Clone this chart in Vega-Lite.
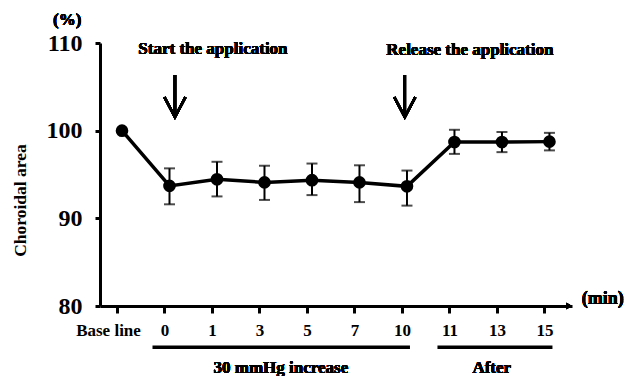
{
  "$schema": "https://vega.github.io/schema/vega-lite/v6.json",
  "width": 472,
  "height": 263,
  "autosize": {"type": "none"},
  "padding": {"left": 100, "top": 43, "right": 54, "bottom": 70},
  "background": "white",
  "config": {
    "view": {"stroke": null},
    "font": "Liberation Serif",
    "axis": {
      "domainColor": "black", "tickColor": "black", "labelColor": "black", "titleColor": "black", "grid": false,
      "labelFont": "Liberation Serif", "titleFont": "Liberation Serif"
    }
  },
  "data": {
    "values": [
      {"step": 0, "time": "Base line", "mean": 100.0, "lo": null, "hi": null},
      {"step": 1, "time": "0", "mean": 93.7, "lo": 91.6, "hi": 95.7},
      {"step": 2, "time": "1", "mean": 94.45, "lo": 92.5, "hi": 96.45},
      {"step": 3, "time": "3", "mean": 94.1, "lo": 92.1, "hi": 96.0},
      {"step": 4, "time": "5", "mean": 94.35, "lo": 92.65, "hi": 96.25},
      {"step": 5, "time": "7", "mean": 94.1, "lo": 91.85, "hi": 96.05},
      {"step": 6, "time": "10", "mean": 93.65, "lo": 91.45, "hi": 95.45},
      {"step": 7, "time": "11", "mean": 98.7, "lo": 97.35, "hi": 100.1},
      {"step": 8, "time": "13", "mean": 98.7, "lo": 97.55, "hi": 99.85},
      {"step": 9, "time": "15", "mean": 98.75, "lo": 97.75, "hi": 99.75}
    ]
  },
  "layer": [
    {
      "mark": {"type": "rule", "strokeWidth": 2, "color": "black", "xOffset": 5},
      "encoding": {
        "x": {
          "field": "step", "type": "quantitative",
          "scale": {"domain": [-0.358, 9.58], "nice": false, "zero": false},
          "axis": {
            "title": null,
            "values": [0, 1, 2, 3, 4, 5, 6, 7, 8, 9],
            "labelExpr": "['Base line','0','1','3','5','7','10','11','13','15'][datum.value]",
            "labelFontSize": 17,
            "labelFontWeight": "bold",
            "labelPadding": 9,
            "labelOffset": {"condition": {"test": "datum.value === 0", "value": -9}, "value": 0},
            "tickSize": 7,
            "tickWidth": 3,
            "domainWidth": 3
          }
        },
        "y": {
          "field": "lo", "type": "quantitative",
          "scale": {"domain": [80, 110], "nice": false, "zero": false},
          "axis": {
            "title": "Choroidal area",
            "values": [80, 90, 100, 110],
            "labelFontSize": 24,
            "labelFontWeight": "bold",
            "labelPadding": 13,
            "tickSize": 5,
            "tickWidth": 3,
            "domainWidth": 3,
            "titleFont": "Liberation Serif",
            "titleFontSize": 17.5,
            "titleFontWeight": "bold",
            "titleAngle": -90,
            "titleX": -80,
            "titleY": 157,
            "titleAlign": "center",
            "titleBaseline": "middle"
          }
        },
        "y2": {"field": "hi"}
      }
    },
    {
      "mark": {"type": "tick", "orient": "horizontal", "size": 11, "thickness": 2, "color": "black", "xOffset": 5},
      "encoding": {
        "x": {"field": "step", "type": "quantitative"},
        "y": {"field": "lo", "type": "quantitative", "title": "Choroidal area"}
      }
    },
    {
      "mark": {"type": "tick", "orient": "horizontal", "size": 11, "thickness": 2, "color": "black", "xOffset": 5},
      "encoding": {
        "x": {"field": "step", "type": "quantitative"},
        "y": {"field": "hi", "type": "quantitative", "title": "Choroidal area"}
      }
    },
    {
      "mark": {"type": "line", "strokeWidth": 3.5, "color": "black", "xOffset": 5},
      "encoding": {
        "x": {"field": "step", "type": "quantitative"},
        "y": {"field": "mean", "type": "quantitative", "title": "Choroidal area"}
      }
    },
    {
      "mark": {"type": "point", "shape": "circle", "filled": true, "size": 160, "color": "black", "opacity": 1, "xOffset": 5},
      "encoding": {
        "x": {"field": "step", "type": "quantitative"},
        "y": {"field": "mean", "type": "quantitative", "title": "Choroidal area"}
      }
    },
    {
      "mark": {"type": "rule", "strokeWidth": 2.5, "color": "black"},
      "encoding": {"x": {"datum": 1.22}, "y": {"datum": 106.35}, "y2": {"datum": 101.7}}
    },
    {
      "mark": {"type": "point", "shape": "M-1,-1.9L0,0L1,-1.9", "filled": false, "size": 441, "stroke": "black", "strokeWidth": 2.5, "opacity": 1},
      "encoding": {"x": {"datum": 1.22}, "y": {"datum": 101.55}}
    },
    {
      "mark": {"type": "rule", "strokeWidth": 2.5, "color": "black"},
      "encoding": {"x": {"datum": 6.06}, "y": {"datum": 106.35}, "y2": {"datum": 101.7}}
    },
    {
      "mark": {"type": "point", "shape": "M-1,-1.9L0,0L1,-1.9", "filled": false, "size": 441, "stroke": "black", "strokeWidth": 2.5, "opacity": 1},
      "encoding": {"x": {"datum": 6.06}, "y": {"datum": 101.55}}
    },
    {
      "mark": {"type": "text", "fontSize": 17, "fontWeight": "bold", "align": "center", "baseline": "middle", "color": "black"},
      "encoding": {"x": {"datum": 2.02}, "y": {"datum": 109.3}, "text": {"value": "Start the application"}}
    },
    {
      "mark": {"type": "text", "fontSize": 17, "fontWeight": "bold", "align": "center", "baseline": "middle", "color": "black"},
      "encoding": {"x": {"datum": 7.43}, "y": {"datum": 109.2}, "text": {"value": "Release the application"}}
    },
    {
      "mark": {"type": "point", "shape": "triangle-right", "filled": true, "size": 45, "color": "black", "opacity": 1},
      "encoding": {"x": {"datum": 9.52}, "y": {"datum": 80}}
    },
    {
      "mark": {"type": "text", "fontSize": 18, "fontWeight": "bold", "align": "center", "baseline": "middle", "color": "black"},
      "encoding": {"x": {"datum": 10.23}, "y": {"datum": 80.8}, "text": {"value": "(min)"}}
    },
    {
      "mark": {"type": "text", "fontSize": 17, "fontWeight": "bold", "align": "center", "baseline": "middle", "color": "black"},
      "encoding": {"x": {"datum": -1.05}, "y": {"datum": 112.6}, "text": {"value": "(%)"}}
    },
    {
      "data": {"values": [
        {"phase": "30 mmHg increase", "first": 1, "last": 6},
        {"phase": "After", "first": 7, "last": 9}
      ]},
      "mark": {"type": "rule", "strokeWidth": 3.5, "color": "black", "xOffset": -12, "x2Offset": 8},
      "encoding": {
        "x": {"field": "first", "type": "quantitative"},
        "x2": {"field": "last"},
        "y": {"datum": 75.3}
      }
    },
    {
      "mark": {"type": "text", "fontSize": 17, "fontWeight": "bold", "align": "center", "baseline": "middle", "color": "black"},
      "encoding": {"x": {"datum": 3.45}, "y": {"datum": 72.9}, "text": {"value": "30 mmHg increase"}}
    },
    {
      "mark": {"type": "text", "fontSize": 17, "fontWeight": "bold", "align": "center", "baseline": "middle", "color": "black"},
      "encoding": {"x": {"datum": 7.89}, "y": {"datum": 72.9}, "text": {"value": "After"}}
    }
  ]
}
